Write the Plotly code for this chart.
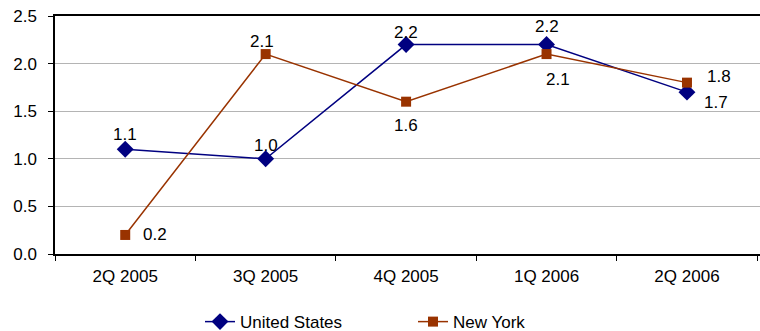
import plotly.graph_objects as go

quarters = ["2Q 2005", "3Q 2005", "4Q 2005", "1Q 2006", "2Q 2006"]
us_values = [1.1, 1.0, 2.2, 2.2, 1.7]
ny_values = [0.2, 2.1, 1.6, 2.1, 1.8]

# label offsets in pixels (dx, dy) from each point
us_label_offsets = [(0, 15), (0, 13), (0, 12), (0, 18), (29, -10)]
ny_label_offsets = [(30, 0), (-4, 13), (0, -24), (11, -25), (32, 6)]

US_COLOR = "#000080"
NY_COLOR = "#993300"
font_family = "Liberation Sans, Arial, sans-serif"
FONT_SIZE = 17

fig = go.Figure()
fig.add_trace(go.Scatter(
    x=quarters, y=us_values, name="United States",
    mode="lines+markers",
    line=dict(color=US_COLOR, width=1.5),
    marker=dict(symbol="diamond", size=13, color=US_COLOR),
))
fig.add_trace(go.Scatter(
    x=quarters, y=ny_values, name="New York",
    mode="lines+markers",
    line=dict(color=NY_COLOR, width=1.5),
    marker=dict(symbol="square", size=10, color=NY_COLOR),
))

# value labels
for values, offsets in ((us_values, us_label_offsets), (ny_values, ny_label_offsets)):
    for q, v, (dx, dy) in zip(quarters, values, offsets):
        fig.add_annotation(
            x=q, y=v, text=f"{v:.1f}", showarrow=False,
            xshift=dx, yshift=dy,
            font=dict(size=FONT_SIZE, color="#000000", family=font_family),
        )

fig.update_layout(
    width=760, height=331,
    margin=dict(l=55, r=0, t=16, b=77),
    paper_bgcolor="white", plot_bgcolor="white",
    font=dict(family=font_family, size=FONT_SIZE, color="#000000"),
    showlegend=True,
    legend=dict(orientation="h", xref="container", yref="container",
                x=200 / 760, xanchor="left", y=0.027, yanchor="middle",
                entrywidth=168, entrywidthmode="pixels",
                font=dict(size=FONT_SIZE), traceorder="normal",
                bgcolor="rgba(0,0,0,0)"),
    xaxis=dict(
        type="category", range=[-0.5, 4.52],
        showline=True, linecolor="#000000", linewidth=1.5, mirror=True,
        ticks="outside", tickson="boundaries", ticklen=5, tickcolor="#000000",
        showgrid=False, tickfont=dict(size=FONT_SIZE), ticklabelstandoff=6,
    ),
    yaxis=dict(
        range=[0, 2.5], dtick=0.5, tickformat=".1f",
        showline=True, linecolor="#000000", linewidth=1.5,
        ticks="outside", ticklen=5, tickcolor="#000000",
        showgrid=True, gridcolor="#b4b4b4", gridwidth=1,
        zeroline=False, tickfont=dict(size=FONT_SIZE), ticklabelstandoff=8,
    ),
)

fig.write_html("out.html")
